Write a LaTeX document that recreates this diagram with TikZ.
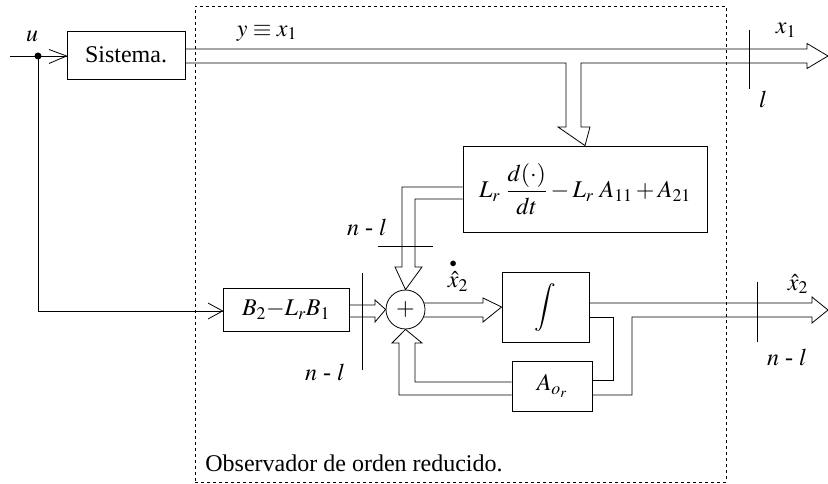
\documentclass[tikz,border=0pt]{standalone}
\usepackage{mathptmx}
\usepackage{fontspec}
\setmainfont{Liberation Serif}
\usetikzlibrary{calc}
\begin{document}
\begin{tikzpicture}[x=1pt,y=-1pt,line width=0.8pt,
  every node/.style={font=\fontsize{24}{28}\selectfont},
  blk/.style={draw,line width=0.8pt,inner sep=0pt},
  lbl/.style={inner sep=0pt},
  ln/.style={line width=0.8pt,line join=miter}]
\useasboundingbox (0,0) rectangle (828,484);
% observer frame
\node[draw,dashed,line width=0.7pt,minimum width=531,minimum height=476,inner sep=0pt] (obs) at (460.5,244) {};
\node[lbl,anchor=west] (obstxt) at (205,463) {Observador de orden reducido.};
% blocks
\node[blk,minimum width=118,minimum height=48] (sis) at (126,55) {Sistema.};
\node[blk,minimum width=244,minimum height=86] (lr) at (585,189) {$\displaystyle L_r\ \frac{d(\cdot)}{dt}-L_r\ A_{11}+A_{21}$};
\node[blk,minimum width=126,minimum height=43] (b2) at (286,309.5) {$B_2{-}L_rB_1$};
\node[draw,circle,minimum size=39,inner sep=0pt] (sum) at (405.5,309.5) {$+$};
\node[blk,minimum width=87,minimum height=70] (int) at (545.5,307) {$\displaystyle\int$};
\node[blk,minimum width=80,minimum height=50] (ao) at (552,386) {$A_{o_r}$};
% input
\coordinate (uin) at (10,56);
\coordinate (ud) at (38,56);
\fill (ud) circle (3.5);
\draw[ln] (uin) -- (sis.west |- uin);
\draw[ln] (49,49.5) -- (sis.west |- uin) -- (49,63.5);
\draw[ln] (ud) -- (38,311) -- (b2.west |- 0,311);
\draw[ln] (208,303) -- (b2.west |- 0,311) -- (208,319);
\node[lbl] (ulbl) at (32,36) {$u$};
% system output double arrow with branch
\draw[ln] (sis.east |- 0,49) -- (807,49) -- (807,43.5) -- (828,56) -- (807,68.5) -- (807,63)
  -- (581,63) -- (581,127) -- (590,127) -- (lr.north) -- (558,127) -- (566,127) -- (566,63) -- (sis.east |- 0,63);
\node[lbl] (ylbl) at (267,33) {$y\equiv x_1$};
\node[lbl] (x1lbl) at (786,30) {$x_1$};
\draw[ln] (749,30) -- (749,89);
\node[lbl] (l1) at (763,99) {$l$};
% Lr to sum
\draw[ln] (lr.west |- 0,187) -- (402,187) -- (402,267) -- (395,267) -- (sum.north) -- (422,267) -- (415,267) -- (415,199) -- (lr.west |- 0,199);
\draw[ln] (378,246) -- (433,246);
\node[lbl] (nl1) at (367,227) {$n$ - $l$};
% B2 to sum
\draw[ln] (b2.east |- 0,305) -- (375,305) -- (375,300) -- (sum.west) -- (375,322) -- (375,317) -- (b2.east |- 0,317);
\draw[ln] (362,273) -- (362,370);
\node[lbl] (nl2) at (325,372) {$n$ - $l$};
% sum to int
\draw[ln] (424,303) -- (483,303) -- (483,298) -- (int.west) -- (483,322) -- (483,317) -- (424,317);
\node[lbl] (xdl) at (458,275) {${\stackrel{\scriptscriptstyle\bullet}{\hat{x}}}_2$};
% int output
\draw[ln] (int.east |- 0,303) -- (812,303) -- (812,297) -- (828,310) -- (812,323) -- (812,317) -- (632,317) -- (632,395) -- (ao.east |- 0,395);
\draw[ln] (int.east |- 0,317) -- (613,317) -- (613,380) -- (ao.east |- 0,380);
\draw[ln] (757,282) -- (757,342);
\node[lbl] (x2lbl) at (798,284) {$\hat{x}_2$};
\node[lbl] (nl3) at (787,357) {$n$ - $l$};
% Ao to sum
\draw[ln] (ao.west |- 0,382) -- (415,382) -- (415,343) -- (422,343) -- (sum.south) -- (392,343) -- (399,343) -- (399,395) -- (ao.west |- 0,395);
\end{tikzpicture}
\end{document}
